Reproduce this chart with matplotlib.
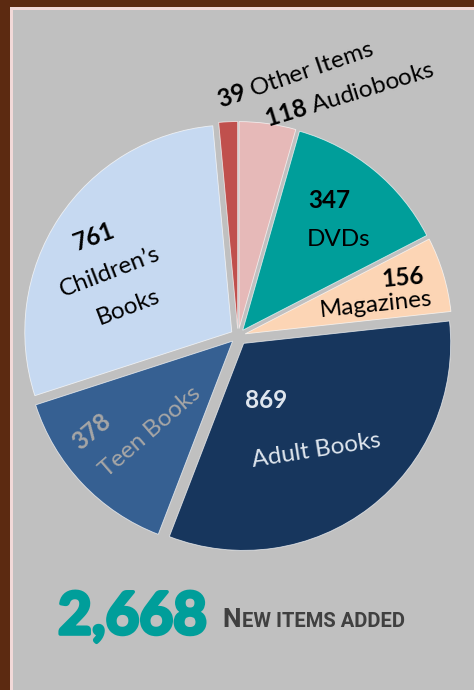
import matplotlib
matplotlib.use("Agg")
import matplotlib.pyplot as plt
from matplotlib.patches import Rectangle
import matplotlib.patheffects as pe

# ---------------- data ----------------
categories = ["Audiobooks", "DVDs", "Magazines", "Adult Books",
              "Teen Books", "Children\u2019s Books", "Other Items"]
values = [118, 347, 156, 869, 378, 761, 39]
colors = ["#e6b9b8", "#009e9a", "#fcd5b5", "#17365d",
          "#366092", "#c6d9f1", "#c0504d"]
total_label = "2,668"
subtitle_first = "N"
subtitle_rest = "EW ITEMS ADDED"

plt.rcParams["mathtext.fontset"] = "custom"
plt.rcParams["mathtext.rm"] = "Lato"
plt.rcParams["mathtext.bf"] = "Lato:bold"

W, H = 474, 690
fig = plt.figure(figsize=(W / 100, H / 100), dpi=100)
fig.patch.set_facecolor("#5c2a11")

# background panel axes
bg = fig.add_axes([0, 0, 1, 1], zorder=-5)
bg.set_xlim(0, W)
bg.set_ylim(H, 0)
bg.axis("off")
bg.add_patch(Rectangle((10, 7), W, H, facecolor="#f2d9d8", edgecolor="none"))
bg.add_patch(Rectangle((13, 10), W, H, facecolor="#c0c0c0", edgecolor="none"))

# pie axes
CX, CY, R, HALF = 238, 336, 207, 232
ax = fig.add_axes([(CX - HALF) / W, (H - (CY + HALF)) / H, 2 * HALF / W, 2 * HALF / H])
ax.set_facecolor("none")
wedges, _ = ax.pie(values, colors=colors, startangle=90, counterclock=False,
                   explode=[0.036, 0.036, 0.036, 0.045, 0.036, 0.036, 0.036],
                   radius=1.0,
                   wedgeprops=dict(edgecolor=(1, 1, 1, 0.7), linewidth=0.6))
L = HALF / R
ax.set_xlim(-L, L)
ax.set_ylim(-L, L)
ax.axis("off")


def P(px, py):
    return ((px - CX) / R, (CY - py) / R)


FONT = ["Lato", "DejaVu Sans"]
FS = 17.5


def lab(px, py, s, size=FS, color="black", weight="normal", rot=0):
    x, y = P(px, py)
    ax.text(x, y, s, fontsize=size, color=color, fontweight=weight, rotation=rot,
            ha="center", va="center", rotation_mode="anchor", family=FONT)


# Children's Books
lab(94, 237, str(values[5]), weight="bold", rot=20)
lab(110, 272, "Children\u2019s", rot=21)
lab(128, 307, "Books", rot=21)
# DVDs
lab(329, 200, str(values[1]), weight="bold")
lab(339, 239, "DVDs")
# Magazines
lab(403, 278, str(values[2]), weight="bold", rot=5)
lab(376, 305, "Magazines", rot=6)
# Adult Books
lab(266, 400, str(values[3]), weight="bold", color="#dfe6ee")
lab(316, 450, "Adult Books", color="#dfe6ee", rot=9)
# Teen Books
lab(92, 432, str(values[4]), weight="bold", color="#a6a6a6", rot=40)
lab(150, 432, "Teen Books", color="#a6a6a6", rot=41)
# Outside labels
lab(295, 75, r"$\mathbf{%d}$ Other Items" % values[6], rot=19)
lab(350, 95, r"$\mathbf{%d}$ Audiobooks" % values[0], rot=17)

# bottom total
bg.text(58, 634, total_label, fontsize=42, color="#009e9a", fontweight="bold",
        family=FONT, ha="left", va="baseline",
        path_effects=[pe.withStroke(linewidth=2.6, foreground="#009e9a")])
t1 = bg.text(222, 627, subtitle_first, fontsize=19, color="#404040",
             fontweight="bold", family=["Roboto", "DejaVu Sans"],
             ha="left", va="baseline")
fig.canvas.draw()
bb = t1.get_window_extent()
x_end = bb.x1
bg.text(x_end + 1, 627, subtitle_rest, fontsize=14.5, color="#404040",
        fontweight="bold", family=["Roboto", "DejaVu Sans"],
        ha="left", va="baseline")

fig.savefig("out.png", dpi=100)
